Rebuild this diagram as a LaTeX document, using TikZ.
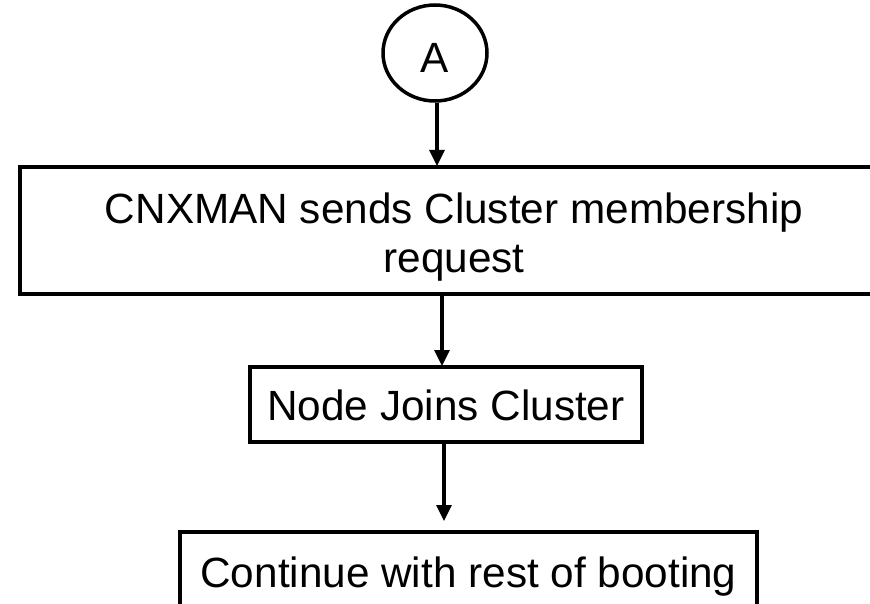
\documentclass[tikz,border=0pt]{standalone}
\usepackage{fontspec}
\setmainfont{Liberation Sans}
\usetikzlibrary{arrows.meta,shapes.geometric}
\begin{document}
\begin{tikzpicture}[x=1pt,y=1pt,
  box/.style={draw, line width=3.5pt, inner sep=0pt, font=\fontsize{42.3}{49}\selectfont},
  conn/.style={line width=3.2pt, -{Triangle[width=15pt,length=16pt]}}]
\useasboundingbox (0,0) rectangle (870,-604);
\clip (0,0) rectangle (870,-604);
\node[draw, ellipse, line width=3.5pt, minimum width=104pt, minimum height=96pt, inner sep=0pt,
      text height=40pt, text depth=0pt, font=\fontsize{42.3}{49}\selectfont] (a) at (435,-53) {A};
\node[box, align=center, minimum width=868pt, minimum height=127pt] (b1) at (454,-230.5)
  {\rule{0pt}{43pt}CNXMAN sends Cluster membership\\request};
\node[box, text height=31pt, text depth=0pt, minimum width=392pt, minimum height=75pt] (b2) at (446,-404.5) {Node Joins Cluster};
\node[box, text height=35pt, text depth=0pt, minimum width=577pt, minimum height=75pt] (b3) at (468.5,-569.5) {Continue with rest of booting};
\coordinate (t1) at (437,-166);
\coordinate (t2) at (442,-366);
\coordinate (t3) at (444,-521);
\draw[conn] (a.south -| t1) -- (t1);
\draw[conn] (b1.south -| t2) -- (t2);
\draw[conn] (b2.south -| t3) -- (t3);
\end{tikzpicture}
\end{document}
